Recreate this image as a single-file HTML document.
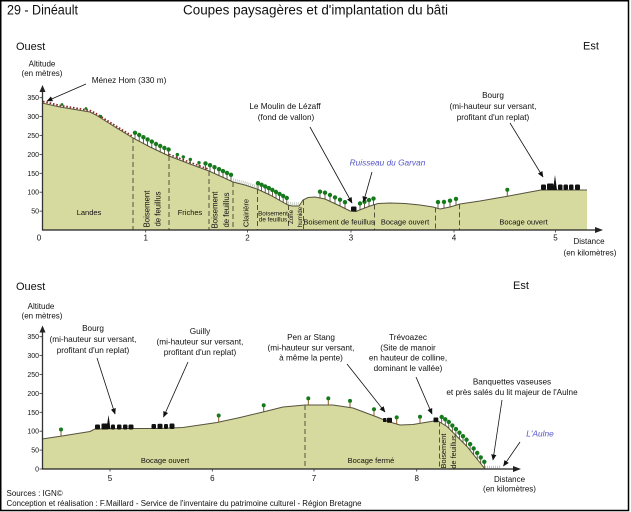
<!DOCTYPE html>
<html><head><meta charset="utf-8"><style>
html,body{margin:0;padding:0;background:#fff;}
svg{display:block;}
text{font-family:"Liberation Sans",sans-serif;fill:#111;}
</style></head><body>
<svg width="631" height="512" viewBox="0 0 631 512" xmlns="http://www.w3.org/2000/svg">
<defs>
<marker id="ah" markerWidth="6" markerHeight="6" refX="5.5" refY="3" orient="auto" markerUnits="userSpaceOnUse"><path d="M0,0.4 L6,3 L0,5.6 z" fill="#111"/></marker>
<g id="t"><line x1="0" y1="0" x2="0" y2="-5" stroke="#4a3a20" stroke-width="0.8"/><circle cx="0" cy="-6.3" r="2.2" fill="#167a1c"/></g>
<g id="ti"><line x1="0" y1="0" x2="0" y2="-5" stroke="#8a5a22" stroke-width="1"/><circle cx="0" cy="-6.6" r="2" fill="#167a1c"/></g>
<g id="ts"><line x1="0" y1="0" x2="0" y2="-3" stroke="#4a3a20" stroke-width="0.8"/><circle cx="0" cy="-4.6" r="1.7" fill="#167a1c"/></g>
</defs>
<rect x="0" y="0" width="631" height="512" fill="#fff"/>
<rect x="0.75" y="0.75" width="627.75" height="509.75" fill="none" stroke="#000" stroke-width="1.5"/>

<!-- Titles -->
<text x="7" y="14.5" font-size="13.5" textLength="71" lengthAdjust="spacingAndGlyphs">29 - Dinéault</text>
<text x="183" y="14.5" font-size="13.5" textLength="265" lengthAdjust="spacingAndGlyphs">Coupes paysagères et d'implantation du bâti</text>

<!-- ================= TOP CHART ================= -->
<text x="16" y="50" font-size="11">Ouest</text>
<text x="583" y="49.5" font-size="11">Est</text>
<text x="42" y="66.5" font-size="8" text-anchor="middle">Altitude</text>
<text x="42" y="76" font-size="8" text-anchor="middle">(en mètres)</text>

<path d="M42,230 L42,103 L60,107 L90,112 L96,115 L115,127 L133,138 L150,147 L169,156 L190,164 L209,171 L220,176 L233,182 L245,185 L257,189 L270,195 L288,205 L292,206 L299,206 L303,200 L308,197.5 L315,197 L325,199 L340,206 L350,211 L356,211.5 L362,209 L370,206 L378,203.5 L390,203 L405,203.5 L420,205 L433,207 L440,209 L450,207 L460,204 L480,201 L506,196.5 L530,192 L541,190 L587,190 L587,230 Z" fill="#d6da9e"/>
<path d="M42,103 L60,107 L90,112 L96,115 L115,127 L133,138 L150,147 L169,156 L190,164 L209,171 L220,176 L233,182 L245,185 L257,189 L270,195 L288,205 L292,206 L299,206 L303,200 L308,197.5 L315,197 L325,199 L340,206 L350,211 L356,211.5 L362,209 L370,206 L378,203.5 L390,203 L405,203.5 L420,205 L433,207 L440,209 L450,207 L460,204 L480,201 L506,196.5 L530,192 L541,190 L587,190" fill="none" stroke="#55533d" stroke-width="1"/>

<!-- heather -->
<path d="M43,101.5 L60,105.5 L90,110.5 L96,113.5 L115,125.5 L133,136.5" fill="none" stroke="#8c2a1e" stroke-width="1.8" stroke-dasharray="1.6 1.8"/>
<path d="M169,154.3 L190,162.3 L209,169.3" fill="none" stroke="#8c2a1e" stroke-width="1.6" stroke-dasharray="1.6 2"/>
<!-- grass -->
<path d="M233,179.8 L245,182.8 L257,186.8" fill="none" stroke="#b8c2b4" stroke-width="3" stroke-dasharray="0.8 1.2"/>
<path d="M288,202.8 L292,203.8 L299,203.8" fill="none" stroke="#b8c2b4" stroke-width="3" stroke-dasharray="0.8 1.2"/>

<!-- dashed boundaries top -->
<g stroke="#55533d" stroke-width="1" stroke-dasharray="5 3">
<line x1="133" y1="138" x2="133" y2="230"/>
<line x1="169" y1="156" x2="169" y2="230"/>
<line x1="209" y1="171" x2="209" y2="230"/>
<line x1="233" y1="182" x2="233" y2="230"/>
<line x1="257.5" y1="189" x2="257.5" y2="230"/>
<line x1="288.5" y1="205" x2="288.5" y2="230"/>
<line x1="303.5" y1="200" x2="303.5" y2="230"/>
<line x1="374.5" y1="204.5" x2="374.5" y2="230"/>
<line x1="435.5" y1="207.5" x2="435.5" y2="230"/>
<line x1="459.5" y1="204.2" x2="459.5" y2="230"/>
</g>

<!-- landes dots -->
<circle cx="62" cy="104.5" r="1.4" fill="#167a1c"/>
<circle cx="86" cy="108.5" r="1.4" fill="#167a1c"/>
<circle cx="100.7" cy="116.2" r="1.4" fill="#167a1c"/>

<!-- trees top -->
<use href="#t" x="135" y="139.1"/><use href="#t" x="139.2" y="141.3"/><use href="#t" x="143.4" y="143.5"/><use href="#t" x="147.6" y="145.7"/><use href="#t" x="151.8" y="147.9"/><use href="#t" x="156" y="150.3"/><use href="#t" x="160.2" y="152.3"/><use href="#t" x="164.4" y="154.3"/><use href="#t" x="168.6" y="155.8"/>
<use href="#ts" x="177.3" y="159.2"/><use href="#ts" x="183.3" y="161.5"/><use href="#ts" x="190.3" y="164.1"/><use href="#ts" x="199" y="167.3"/>
<use href="#t" x="205.5" y="169.7"/><use href="#t" x="210" y="171.5"/><use href="#t" x="214.5" y="173.5"/><use href="#t" x="219" y="175.5"/><use href="#t" x="223" y="177.4"/><use href="#t" x="227" y="179.2"/><use href="#t" x="231" y="181.1"/>
<use href="#t" x="258" y="189.5"/><use href="#t" x="261.6" y="191.1"/><use href="#t" x="265.2" y="192.8"/><use href="#t" x="268.8" y="194.4"/><use href="#t" x="272.4" y="196.3"/><use href="#t" x="276" y="198.3"/><use href="#t" x="279.6" y="200.3"/><use href="#t" x="283.2" y="202.3"/><use href="#t" x="286.8" y="204.3"/>
<use href="#t" x="320" y="198"/><use href="#t" x="325" y="199"/><use href="#t" x="330" y="201.3"/><use href="#t" x="335" y="203.7"/><use href="#t" x="340" y="206"/><use href="#t" x="345" y="208.5"/>
<use href="#t" x="360" y="209.8"/><use href="#t" x="364.5" y="208.1"/><use href="#t" x="369" y="206.4"/><use href="#t" x="373.5" y="204.9"/>
<use href="#t" x="438" y="208.4"/><use href="#t" x="444" y="208.2"/><use href="#t" x="450" y="207"/><use href="#t" x="456" y="205.2"/>
<use href="#ti" x="507.3" y="196.3"/>

<!-- buildings top -->
<rect x="351" y="206.5" width="5.5" height="5" rx="1" fill="#111"/>
<g fill="#111">
<rect x="541" y="184.5" width="5" height="5.5" rx="1.2"/>
<rect x="547" y="183.5" width="6.5" height="6.5" rx="1"/>
<polygon points="553,190 555,175 557,190"/>
<rect x="558" y="184.5" width="4.5" height="5.5" rx="1.2"/>
<rect x="563.5" y="184.5" width="4.5" height="5.5" rx="1.2"/>
<rect x="569" y="184.5" width="4.5" height="5.5" rx="1.2"/>
<rect x="575" y="184.5" width="5" height="5.5" rx="1.2"/>
</g>

<!-- zone labels top -->
<text x="89" y="215" font-size="7.5" text-anchor="middle">Landes</text>
<text x="190" y="215" font-size="7.5" text-anchor="middle">Friches</text>
<text transform="translate(149.7,209) rotate(-90)" font-size="7.8" text-anchor="middle">Boisement</text>
<text transform="translate(160.7,209) rotate(-90)" font-size="7.8" text-anchor="middle">de feuillus</text>
<text transform="translate(217.7,210) rotate(-90)" font-size="7.8" text-anchor="middle">Boisement</text>
<text transform="translate(229.2,210) rotate(-90)" font-size="7.8" text-anchor="middle">de feuillus</text>
<text transform="translate(248.7,213) rotate(-90)" font-size="7.6" text-anchor="middle">Clairière</text>
<text x="273" y="215.5" font-size="6.3" text-anchor="middle">Boisement</text>
<text x="273" y="221.5" font-size="6.3" text-anchor="middle">de feuillus</text>
<text transform="translate(293.2,217) rotate(-90)" font-size="6.2" text-anchor="middle">Zone</text>
<text transform="translate(302,217) rotate(-90)" font-size="6.2" text-anchor="middle">humide</text>
<text x="339" y="224.5" font-size="7.5" text-anchor="middle">Boisement de feuillus</text>
<text x="405" y="224.5" font-size="7.5" text-anchor="middle">Bocage ouvert</text>
<text x="523.5" y="224.5" font-size="7.5" text-anchor="middle">Bocage ouvert</text>

<!-- axes top -->
<line x1="42.5" y1="230" x2="42.5" y2="91" stroke="#333" stroke-width="1.3"/>
<polygon points="42.5,85 39.5,92 45.5,92" fill="#222"/>
<line x1="42" y1="230" x2="597" y2="230" stroke="#222" stroke-width="1.3"/>
<polygon points="603,230 595,227 595,233" fill="#222"/>
<g stroke="#333" stroke-width="0.8">
<line x1="39.5" y1="211.1" x2="42" y2="211.1"/><line x1="39.5" y1="192.2" x2="42" y2="192.2"/><line x1="39.5" y1="173.3" x2="42" y2="173.3"/><line x1="39.5" y1="154.4" x2="42" y2="154.4"/><line x1="39.5" y1="135.5" x2="42" y2="135.5"/><line x1="39.5" y1="116.6" x2="42" y2="116.6"/><line x1="39.5" y1="97.7" x2="42" y2="97.7"/>
<line x1="145.7" y1="230" x2="145.7" y2="232.5"/><line x1="247.5" y1="230" x2="247.5" y2="232.5"/><line x1="351" y1="230" x2="351" y2="232.5"/><line x1="454" y1="230" x2="454" y2="232.5"/><line x1="555.5" y1="230" x2="555.5" y2="232.5"/>
</g>
<g font-size="7" text-anchor="end">
<text x="39" y="213.6">50</text><text x="39" y="194.7">100</text><text x="39" y="175.8">150</text><text x="39" y="156.9">200</text><text x="39" y="138">250</text><text x="39" y="119.1">300</text><text x="39" y="100.2">350</text>
</g>
<g font-size="8" text-anchor="middle">
<text x="39" y="240.3">0</text><text x="145.7" y="240.3">1</text><text x="247.5" y="240.3">2</text><text x="351" y="240.3">3</text><text x="454" y="240.3">4</text><text x="555.5" y="240.3">5</text>
<text x="589" y="244">Distance</text>
<text x="590" y="255.5">(en kilomètres)</text>
</g>

<!-- annotations top -->
<g font-size="8.2" text-anchor="middle">
<text x="129" y="83">Ménez Hom (330 m)</text>
<text x="285" y="109">Le Moulin de Lézaff</text>
<text x="286" y="120">(fond de vallon)</text>
<text x="493" y="98">Bourg</text>
<text x="493" y="109">(mi-hauteur sur versant,</text>
<text x="493" y="120">profitant d'un replat)</text>
</g>
<text x="387.5" y="165.5" font-size="8.3" font-style="italic" text-anchor="middle" style="fill:#5454c8">Ruisseau du Garvan</text>
<g stroke="#111" stroke-width="0.8" marker-end="url(#ah)">
<line x1="86" y1="84" x2="47" y2="101"/>
<line x1="310" y1="127" x2="352" y2="203"/>
<line x1="372" y1="172" x2="363.5" y2="202"/>
<line x1="510" y1="123" x2="543" y2="177"/>
</g>

<!-- ================= BOTTOM CHART ================= -->
<text x="16" y="290" font-size="11">Ouest</text>
<text x="513" y="289" font-size="11">Est</text>
<text x="41" y="309" font-size="8" text-anchor="middle">Altitude</text>
<text x="42" y="318.5" font-size="8" text-anchor="middle">(en mètres)</text>

<path d="M42,469 L42,439 L62,436 L90,431.5 L95,429 L130,428.5 L160,428.5 L183,427.5 L217,422.5 L240,417.5 L263,412 L283,407 L305,405 L333,405 L353,408 L377,417 L388,421.5 L400,425 L413,424.5 L425,422.5 L437,420.5 L447,426.5 L467,446.5 L485,469 Z" fill="#d6da9e"/>
<path d="M42,439 L62,436 L90,431.5 L95,429 L130,428.5 L160,428.5 L183,427.5 L217,422.5 L240,417.5 L263,412 L283,407 L305,405 L333,405 L353,408 L377,417 L388,421.5 L400,425 L413,424.5 L425,422.5 L437,420.5 L447,426.5 L467,446.5 L485,469" fill="none" stroke="#55533d" stroke-width="1"/>
<path d="M485,467 L500,467" fill="none" stroke="#a8c8a0" stroke-width="2.5" stroke-dasharray="0.8 1.2"/>

<g stroke="#55533d" stroke-width="1" stroke-dasharray="5 3">
<line x1="305" y1="405" x2="305" y2="469"/>
<line x1="439.5" y1="421.5" x2="439.5" y2="469"/>
</g>

<!-- trees bottom -->
<use href="#ti" x="61" y="436.1"/><use href="#ti" x="218.7" y="422.1"/><use href="#ti" x="263.7" y="411.8"/><use href="#ti" x="308.3" y="405"/><use href="#ti" x="328.3" y="405"/><use href="#ti" x="350" y="407.5"/><use href="#ti" x="374" y="415.9"/><use href="#ti" x="396.7" y="424"/><use href="#ti" x="420" y="423.3"/>
<use href="#t" x="441.7" y="423.3"/><use href="#t" x="445.25" y="425.6"/><use href="#t" x="448.8" y="428.3"/><use href="#t" x="452.35" y="431.85"/><use href="#t" x="455.9" y="435.4"/><use href="#t" x="459.45" y="438.95"/><use href="#t" x="463" y="442.5"/><use href="#t" x="466.55" y="446.05"/><use href="#t" x="470.1" y="450.4"/><use href="#t" x="473.65" y="454.8"/><use href="#t" x="477.2" y="459.25"/><use href="#t" x="480.75" y="463.7"/><use href="#t" x="484.3" y="468.1"/>

<!-- buildings bottom -->
<g fill="#111">
<rect x="95" y="424.5" width="5" height="5" rx="1.2"/>
<rect x="101.5" y="423.5" width="6.5" height="6" rx="1"/>
<polygon points="106.5,429 108.5,415 110.5,429"/>
<rect x="111" y="424.5" width="4" height="5" rx="1.2"/>
<rect x="117" y="424.5" width="4.5" height="5" rx="1.2"/>
<rect x="123" y="424.5" width="4.5" height="5" rx="1.2"/>
<rect x="128.5" y="424.5" width="5" height="5" rx="1.2"/>
<rect x="151.5" y="424" width="4.5" height="5" rx="1.2"/>
<rect x="157.5" y="423.7" width="5" height="5.3" rx="1.2"/>
<rect x="164" y="424" width="4" height="5" rx="1.2"/>
<rect x="169.5" y="423.5" width="5" height="5.5" rx="1.2"/>
<rect x="383" y="418" width="3.5" height="4" rx="0.8"/>
<rect x="387" y="417.8" width="5" height="5" rx="0.8"/>
<rect x="433.5" y="417.5" width="4.8" height="4.8" rx="0.8"/>
</g>

<!-- zone labels bottom -->
<text x="165" y="463" font-size="7.5" text-anchor="middle">Bocage ouvert</text>
<text x="371" y="463" font-size="7.5" text-anchor="middle">Bocage fermé</text>
<text transform="translate(445.8,451) rotate(-90)" font-size="7.4" text-anchor="middle">Boisement</text>
<text transform="translate(455.8,452) rotate(-90)" font-size="7.4" text-anchor="middle">de feuillus</text>

<!-- axes bottom -->
<line x1="42.5" y1="469" x2="42.5" y2="331" stroke="#333" stroke-width="1.3"/>
<polygon points="42.5,325.5 39.5,332.5 45.5,332.5" fill="#222"/>
<line x1="42" y1="469" x2="515" y2="469" stroke="#222" stroke-width="1.3"/>
<polygon points="521,469 513,466 513,472" fill="#222"/>
<g stroke="#333" stroke-width="0.8">
<line x1="39.5" y1="469" x2="42" y2="469"/><line x1="39.5" y1="450.1" x2="42" y2="450.1"/><line x1="39.5" y1="431.2" x2="42" y2="431.2"/><line x1="39.5" y1="412.3" x2="42" y2="412.3"/><line x1="39.5" y1="393.4" x2="42" y2="393.4"/><line x1="39.5" y1="374.5" x2="42" y2="374.5"/><line x1="39.5" y1="355.6" x2="42" y2="355.6"/><line x1="39.5" y1="336.7" x2="42" y2="336.7"/>
<line x1="110" y1="469" x2="110" y2="471.5"/><line x1="212.3" y1="469" x2="212.3" y2="471.5"/><line x1="314" y1="469" x2="314" y2="471.5"/><line x1="416.7" y1="469" x2="416.7" y2="471.5"/>
</g>
<g font-size="7" text-anchor="end">
<text x="39" y="471.5">0</text><text x="39" y="452.6">50</text><text x="39" y="433.7">100</text><text x="39" y="414.8">150</text><text x="39" y="395.9">200</text><text x="39" y="377">250</text><text x="39" y="358.1">300</text><text x="39" y="339.2">350</text>
</g>
<g font-size="8" text-anchor="middle">
<text x="110" y="481">5</text><text x="212.3" y="481">6</text><text x="314" y="481">7</text><text x="416.7" y="481">8</text>
<text x="509.5" y="482">Distance</text>
<text x="509.5" y="491.5">(en kilomètres)</text>
</g>

<!-- annotations bottom -->
<g font-size="8.2" text-anchor="middle">
<text x="93" y="331">Bourg</text>
<text x="93" y="342">(mi-hauteur sur versant,</text>
<text x="93" y="353">profitant d'un replat)</text>
<text x="200" y="334">Guilly</text>
<text x="200" y="344.7">(mi-hauteur sur versant,</text>
<text x="200" y="355">profitant d'un replat)</text>
<text x="311" y="340">Pen ar Stang</text>
<text x="311" y="350.5">(mi-hauteur sur versant,</text>
<text x="311" y="360.5">à même la pente)</text>
<text x="408" y="340">Trévoazec</text>
<text x="408" y="350.5">(Site de manoir</text>
<text x="408" y="360.5">en hauteur de colline,</text>
<text x="408" y="371">dominant le vallée)</text>
<text x="512" y="384.5">Banquettes vaseuses</text>
<text x="512" y="395">et près salés du lit majeur de l'Aulne</text>
</g>
<text x="540" y="436.5" font-size="8.3" font-style="italic" text-anchor="middle" style="fill:#5454c8">L'Aulne</text>
<g stroke="#111" stroke-width="0.8" marker-end="url(#ah)">
<line x1="97" y1="358" x2="115" y2="414"/>
<line x1="188" y1="362" x2="163.5" y2="417"/>
<line x1="347" y1="364" x2="385" y2="412"/>
<line x1="416" y1="377" x2="432" y2="414"/>
<line x1="502" y1="400" x2="493" y2="460"/>
<line x1="520" y1="442" x2="503.5" y2="466"/>
</g>

<!-- credits -->
<text x="6.5" y="496" font-size="8">Sources : IGN©</text>
<text x="6.5" y="506" font-size="8" textLength="355" lengthAdjust="spacingAndGlyphs">Conception et réalisation : F.Maillard - Service de l'inventaire du patrimoine culturel - Région Bretagne</text>
</svg>
</body></html>
